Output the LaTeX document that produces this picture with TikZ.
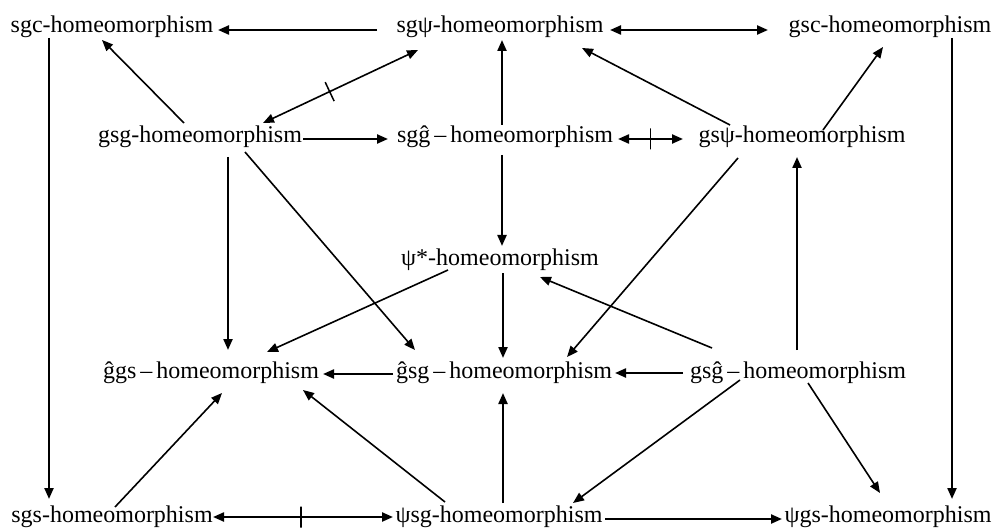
\documentclass[tikz,border=0pt]{standalone}
\usepackage{fontspec}
\setmainfont{Liberation Serif}
\usetikzlibrary{arrows.meta}
\begin{document}
\begin{tikzpicture}[x=1pt,y=-1pt,
  lbl/.style={anchor=base, inner sep=0pt, font=\fontsize{24}{28}\selectfont},
  hv/.style={line width=2.2pt, -{Triangle[length=11pt,width=9pt]}},
  hvb/.style={line width=2.2pt, {Triangle[length=11pt,width=9pt]}-{Triangle[length=11pt,width=9pt]}},
  dg/.style={line width=1.6pt, -{Triangle[length=11pt,width=9pt]}},
  dgb/.style={line width=1.6pt, {Triangle[length=11pt,width=9pt]}-{Triangle[length=11pt,width=9pt]}},
  tickmark/.style={sloped, draw, inner sep=0pt, minimum width=0pt, minimum height=21pt, line width=1.5pt}]
\useasboundingbox (0,0) rectangle (1000,529);
% nodes
\node[lbl] (sgc) at (112,33) {sgc-homeomorphism};
\node[lbl] (sgpsi) at (500,33) {sgψ-homeomorphism};
\node[lbl] (gsc) at (890,33) {gsc-homeomorphism};
\node[lbl] (gsg) at (200,143) {gsg-homeomorphism};
\node[lbl] (sgghat) at (505,143) {sgĝ\,–\,homeomorphism};
\node[lbl] (gspsi) at (802,143) {gsψ-homeomorphism};
\node[lbl] (psistar) at (500,265) {ψ*-homeomorphism};
\node[lbl] (hatggs) at (211,378) {ĝgs\,–\,homeomorphism};
\node[lbl] (hatgsg) at (504,378) {ĝsg\,–\,homeomorphism};
\node[lbl] (gsghat) at (798,378) {gsĝ\,–\,homeomorphism};
\node[lbl] (sgs) at (112,522) {sgs-homeomorphism};
\node[lbl] (psisg) at (499,522) {ψsg-homeomorphism};
\node[lbl] (psigs) at (888,522) {ψgs-homeomorphism};
% connectors
\draw[hv] ([shift={(-123,-3)}]sgpsi.base) -- ([shift={(106,-3)}]sgc.base);
\draw[hvb] ([shift={(110,-3)}]sgpsi.base) -- ([shift={(-122,-3)}]gsc.base);
\draw[hv] ([shift={(-63,5)}]sgc.base) -- ([shift={(-63,-23)}]sgs.base);
\draw[dg] ([shift={(-16,-20)}]gsg.base) -- ([shift={(-10,7)}]sgc.base);
\draw[dgb] ([shift={(63,-20)}]gsg.base) -- node[tickmark, pos=0.43]{} ([shift={(-82,17)}]sgpsi.base);
\draw[hv] ([shift={(103,-4)}]gsg.base) -- ([shift={(-117,-4)}]sgghat.base);
\draw[hv] ([shift={(28,14)}]gsg.base) -- ([shift={(17,-28)}]hatggs.base);
\draw[dg] ([shift={(45,9)}]gsg.base) -- ([shift={(-89,-28)}]hatgsg.base);
\draw[hvb] ([shift={(113,-4)}]sgghat.base) -- node[tickmark, pos=0.5]{} ([shift={(-119,-4)}]gspsi.base);
\draw[hv] ([shift={(-3,-18)}]sgghat.base) -- ([shift={(2,7)}]sgpsi.base);
\draw[dg] ([shift={(-72,-18)}]gspsi.base) -- ([shift={(82,15)}]sgpsi.base);
\draw[dg] ([shift={(21,-13)}]gspsi.base) -- ([shift={(-7,14)}]gsc.base);
\draw[dg] ([shift={(-64,15)}]gspsi.base) -- ([shift={(63,-21)}]hatgsg.base);
\draw[hv] ([shift={(-1,-28)}]gsghat.base) -- ([shift={(-5,14)}]gspsi.base);
\draw[hv] ([shift={(62,5)}]gsc.base) -- ([shift={(64,-23)}]psigs.base);
\draw[hv] ([shift={(-3,12)}]sgghat.base) -- ([shift={(2,-19)}]psistar.base);
\draw[hv] ([shift={(3,8)}]psistar.base) -- ([shift={(-1,-20)}]hatgsg.base);
\draw[dg] ([shift={(-52,5)}]psistar.base) -- ([shift={(56,-26)}]hatggs.base);
\draw[dg] ([shift={(-86,-30)}]gsghat.base) -- ([shift={(40,12)}]psistar.base);
\draw[hv] ([shift={(-115,-5)}]gsghat.base) -- ([shift={(111,-5)}]hatgsg.base);
\draw[hv] ([shift={(-111,-4)}]hatgsg.base) -- ([shift={(112,-4)}]hatggs.base);
\draw[dg] ([shift={(3,-15)}]sgs.base) -- ([shift={(11,15)}]hatggs.base);
\draw[dg] ([shift={(-54,-20)}]psisg.base) -- ([shift={(92,12)}]hatggs.base);
\draw[hvb] ([shift={(101,-5)}]sgs.base) -- node[tickmark, pos=0.49]{} ([shift={(-106,-5)}]psisg.base);
\draw[hv] ([shift={(4,-19)}]psisg.base) -- ([shift={(-1,15)}]hatgsg.base);
\draw[dg] ([shift={(-58,2)}]gsghat.base) -- ([shift={(74,-19)}]psisg.base);
\draw[dg] ([shift={(10,5)}]gsghat.base) -- ([shift={(-8,-29)}]psigs.base);
\draw[hv] ([shift={(106,-3)}]psisg.base) -- ([shift={(-106,-3)}]psigs.base);
\end{tikzpicture}
\end{document}
